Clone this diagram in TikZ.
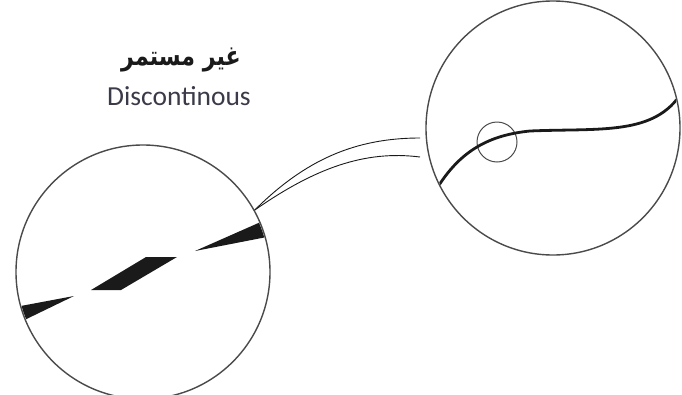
\documentclass[tikz,border=0pt]{standalone}
\usepackage{fontspec}
\setmainfont{Carlito}
\newfontfamily\arabicfont[Script=Arabic]{DejaVu Sans}
\TeXXeTstate=1
\usetikzlibrary{positioning}
\definecolor{Ink}{HTML}{1A1A1A}
\definecolor{Rim}{HTML}{4A4A4A}
\definecolor{Caption}{HTML}{3A3A48}

\begin{document}
\begin{tikzpicture}[x=1pt,y=-1pt]
    \useasboundingbox (0,0) rectangle (682,394);
    \tikzset{lens/.style={circle,draw=Rim,line width=1.4pt,minimum size=254pt,inner sep=0pt}}
    % the two magnified views
    \node[lens] (lensL) at (143,272) {};
    \node[lens] (lensR) at (553,128) {};
    \node[circle,draw=Rim,line width=1pt,minimum size=40pt,inner sep=0pt] (spot) at (497,142) {};
    % labels
    \node[inner sep=0pt,text=Ink,xscale=0.82,transform shape] (labelAr) at (181,60)
      {\hbox{\arabicfont\bfseries\fontsize{27}{30}\selectfont\beginR غير مستمر\endR}};
    \node[inner sep=0pt,font=\fontsize{27.5}{31}\selectfont,text=Caption] (labelEn) at (179,96) {Discontinous};
    % broken strand
    \begin{scope}
      \clip (143,272) circle (126pt);
      \fill[Ink] (10,308) -- (74,296) -- (10,327) -- cycle;
      \fill[Ink] (91,290) -- (121,290) -- (177,257) -- (146,257) -- cycle;
      \fill[Ink] (195,251) -- (272,217) -- (272,236) -- cycle;
    \end{scope}
    % smooth strand
    \begin{scope}
      \clip (553,128) circle (126pt);
      \draw[Ink,line width=2.8pt] (436,190) .. controls (460,150) and (490,135) .. (530,131)
        .. controls (600,128) and (655,136) .. (682,92);
    \end{scope}
    % pointer
    \coordinate (tipUp) at (420,138);
    \coordinate (tipLo) at (420,157);
    \draw[Ink,line width=0.9pt] (lensL.29) .. controls (305,160) and (355,138) .. (tipUp);
    \draw[Ink,line width=0.9pt] (lensL.29) .. controls (315,168) and (365,150) .. (tipLo);
  \end{tikzpicture}
\end{document}
